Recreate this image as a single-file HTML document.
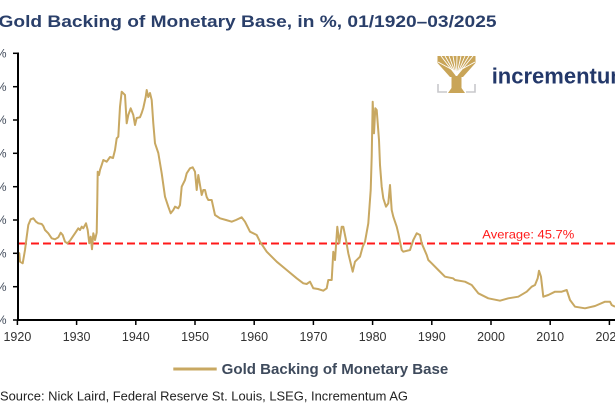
<!DOCTYPE html>
<html>
<head>
<meta charset="utf-8">
<style>
html,body{margin:0;padding:0;background:#fff;}
svg{display:block;}
text{font-family:"Liberation Sans",Arial,sans-serif;}
</style>
</head>
<body>
<svg width="615" height="410" viewBox="0 0 615 410" xmlns="http://www.w3.org/2000/svg">
<rect width="615" height="410" fill="#fff"/>
<!-- Title -->
<text x="-1.5" y="27" font-size="17" font-weight="bold" fill="#2a3f6a" textLength="498" lengthAdjust="spacingAndGlyphs">Gold Backing of Monetary Base, in %, 01/1920–03/2025</text>

<!-- Logo -->
<g>
  <path d="M437.5 56 L475.5 56 L475.5 63 L463 77 L450 77 L437.5 63 Z" fill="#c9a558"/>
  <g stroke="#fff" stroke-width="0.9" fill="none">
    <path d="M456.5 76 L441 56"/>
    <path d="M456.5 76 L445 56"/>
    <path d="M456.5 76 L449 56"/>
    <path d="M456.5 76 L453 56"/>
    <path d="M456.5 76 L457 56"/>
    <path d="M456.5 76 L461 56"/>
    <path d="M456.5 76 L465 56"/>
    <path d="M456.5 76 L469 56"/>
    <path d="M456.5 76 L473 56"/>
    <path d="M456.5 72 L438 62"/>
    <path d="M456.5 72 L475 62"/>
  </g>
  <path d="M451.5 76 L461.5 76 L461.5 88 L465 93 L448 93 L451.5 88 Z" fill="#c9a558"/>
  <path d="M438 84 L438 92 L447 92" stroke="#c8c8cc" stroke-width="1.6" fill="none"/>
  <path d="M475 84 L475 92 L466 92" stroke="#c8c8cc" stroke-width="1.6" fill="none"/>
  <text x="491.7" y="83.3" font-size="22" font-weight="bold" fill="#23386a">incrementum</text>
</g>

<!-- Y axis labels (mostly cropped) -->
<g font-size="12" fill="#404a5a" text-anchor="end">
  <text x="6.5" y="57.5">160%</text>
  <text x="6.5" y="90.8">140%</text>
  <text x="6.5" y="124.2">120%</text>
  <text x="6.5" y="157.5">100%</text>
  <text x="6.5" y="190.8">80%</text>
  <text x="6.5" y="224.2">60%</text>
  <text x="6.5" y="257.5">40%</text>
  <text x="6.5" y="290.8">20%</text>
  <text x="6.5" y="324.2">0%</text>
</g>

<!-- Average line -->
<line x1="19" y1="243.5" x2="615" y2="243.5" stroke="#ff1a1a" stroke-width="2" stroke-dasharray="8 4"/>
<text x="482.3" y="238.3" font-size="12" fill="#ff1a1a" textLength="92" lengthAdjust="spacingAndGlyphs">Average: 45.7%</text>

<!-- Data series -->
<polyline fill="none" stroke="#c8a862" stroke-width="2" stroke-linejoin="round" points="
17.5,252 19.3,253.3 20,261.7 22.7,263.3 25,250 26.7,236.7 28.3,225 30.7,219.3 33.3,218.3 36,221.7 38.3,223.3 41.7,224 43.3,226 45,230 48.3,233.3 51.7,238.3 55,239.3 58.3,237.3 60.7,232.7 62.7,235 65,241.7 67.3,243.3 70,240.7 72.7,236.7 75,233.3 78.3,228.3 80,230 81.7,226.7 83.3,228.3 86,223.3 87.7,230 89.3,243.3 90.7,236.7 92,249.3 93.3,233.3 95,240 96.7,232.7 97.3,200 97.7,171.7 99,175 100,170 101.7,165 103.3,160 106.7,161.7 110,157 113,158 115,150 116.7,138.3 118.3,136.7 120,106.7 121.7,91.7 125,95 126.7,123.3 128.3,115 130.7,108.3 133.3,115 135,125 136.7,118 140,117.3 141.7,113 143.3,108 145.7,97 146.7,90 148.3,97 150,93 151.7,100 153.3,123.3 155,143.3 158.3,153 161.7,173.3 165,196.7 168.3,206.7 170.7,213.3 173.3,210 175,206.7 178.3,208.3 180,205 181.7,186.7 185,180 186.7,173.3 190,168.3 192.7,167.3 195,171.7 196.7,190 198.3,175 201.7,195 203.3,190 205,190 206.7,197 208.3,200 211.7,200 215,215 220,218.3 226,220 231.7,221.7 236,220 241.7,217.3 245,221.7 250,231.7 256.7,235 260,241.7 266.7,251.7 276.7,261.7 286.7,270 296.7,278.3 303.3,283.3 306.7,284 310,281.7 313.3,288.3 318,289 323.3,290.7 326.7,288.3 328.3,280 331.7,280 333.3,251.7 335,260 337.3,226.7 339.3,243.3 341.7,226.7 343.3,226.7 346,240 348.3,253.3 352.7,271.7 355,261.7 360,256.7 362.7,246.7 365,241.7 368.3,223.3 370.7,190 371.7,156.7 372.7,101.7 374,133.3 375.3,108.3 376.7,110 379,140 380,165 381.7,186.7 383.3,198.3 386,206.7 388.3,203.3 390,185 391.7,210 393.3,216.7 396.7,226.7 398.3,233.3 401.7,250 403.3,251.7 410,250 413.3,240 416.7,233.3 420,235 421.7,243.3 426.7,255 428.3,260 431.7,263.3 438.3,270 445,276.7 453,278.3 455,280 465,281.7 471.7,285 478.3,293.3 488.3,298.3 500,300.7 508.3,298.3 518.3,296.7 526.7,291.7 531.7,286.7 535,285 537.7,278.3 539,270.7 541,276.7 543.3,296.7 548.3,295 555,291.7 561.7,291.7 566.7,290 570,300 575,306.7 585,308.3 595,306 605,301.7 610,301.7 611.7,305 615,306.7"/>

<!-- Axes -->
<line x1="18" y1="52.5" x2="18" y2="321" stroke="#000" stroke-width="2"/>
<line x1="17" y1="320" x2="615" y2="320" stroke="#000" stroke-width="2"/>
<g stroke="#000" stroke-width="1.5">
  <line x1="13" y1="53.3" x2="18" y2="53.3"/>
  <line x1="13" y1="86.7" x2="18" y2="86.7"/>
  <line x1="13" y1="120" x2="18" y2="120"/>
  <line x1="13" y1="153.3" x2="18" y2="153.3"/>
  <line x1="13" y1="186.7" x2="18" y2="186.7"/>
  <line x1="13" y1="220" x2="18" y2="220"/>
  <line x1="13" y1="253.3" x2="18" y2="253.3"/>
  <line x1="13" y1="286.7" x2="18" y2="286.7"/>
  <line x1="13" y1="320" x2="18" y2="320"/>
  <line x1="17.4" y1="320" x2="17.4" y2="325"/>
  <line x1="76.6" y1="320" x2="76.6" y2="325"/>
  <line x1="135.8" y1="320" x2="135.8" y2="325"/>
  <line x1="195" y1="320" x2="195" y2="325"/>
  <line x1="254.2" y1="320" x2="254.2" y2="325"/>
  <line x1="313.4" y1="320" x2="313.4" y2="325"/>
  <line x1="372.6" y1="320" x2="372.6" y2="325"/>
  <line x1="431.8" y1="320" x2="431.8" y2="325"/>
  <line x1="491" y1="320" x2="491" y2="325"/>
  <line x1="550.2" y1="320" x2="550.2" y2="325"/>
  <line x1="609.4" y1="320" x2="609.4" y2="325"/>
</g>

<!-- X labels -->
<g font-size="12.5" fill="#333" text-anchor="middle">
  <text x="17.4" y="341">1920</text>
  <text x="76.6" y="341">1930</text>
  <text x="135.8" y="341">1940</text>
  <text x="195" y="341">1950</text>
  <text x="254.2" y="341">1960</text>
  <text x="313.4" y="341">1970</text>
  <text x="372.6" y="341">1980</text>
  <text x="431.8" y="341">1990</text>
  <text x="491" y="341">2000</text>
  <text x="550.2" y="341">2010</text>
  <text x="609.4" y="341">2020</text>
</g>

<!-- Legend -->
<line x1="173.3" y1="369" x2="216.7" y2="369" stroke="#c8a862" stroke-width="3"/>
<text x="221.7" y="374" font-size="15" font-weight="bold" fill="#3e4a5c" textLength="226.6" lengthAdjust="spacingAndGlyphs">Gold Backing of Monetary Base</text>

<!-- Source -->
<text x="0" y="400.5" font-size="12.5" fill="#222" textLength="408" lengthAdjust="spacingAndGlyphs">Source: Nick Laird, Federal Reserve St. Louis, LSEG, Incrementum AG</text>
</svg>
</body>
</html>
